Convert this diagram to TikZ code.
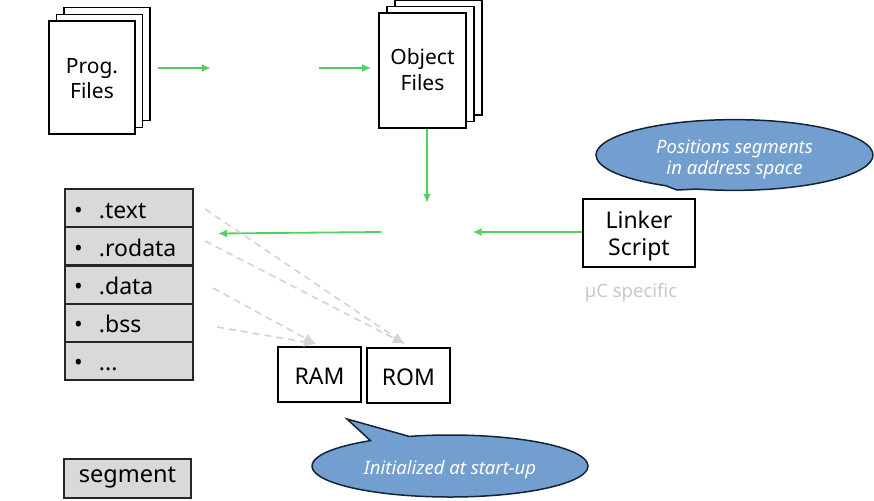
\documentclass[tikz,border=0pt]{standalone}
\usepackage{fontspec}
\setmainfont{Noto Sans}
\usetikzlibrary{arrows.meta,shapes.callouts}
\definecolor{arrowgreen}{RGB}{80,208,92}
\definecolor{dashgray}{RGB}{212,212,212}
\definecolor{segfill}{RGB}{217,217,217}
\definecolor{calloutfill}{RGB}{114,159,207}
\definecolor{calloutline}{RGB}{20,36,56}
\definecolor{notegray}{RGB}{200,200,200}
\tikzset{
  page/.style={draw=black, line width=1.6pt, fill=white, minimum width=86pt, minimum height=113pt, inner sep=0pt, align=center, font=\fontsize{21}{25}\selectfont},
  ghost/.style={inner sep=0pt},
  flow/.style={draw=arrowgreen, line width=1.8pt, -{Latex[length=9pt,width=8pt]}},
  mapto/.style={draw=dashgray, line width=1.6pt, dash pattern=on 7pt off 5pt, -{Latex[length=12pt,width=10pt]}},
  segrow/.style={fill=segfill, minimum width=128pt, minimum height=38.2pt, text width=110pt, inner xsep=9pt, inner ysep=0pt, align=left, text height=20pt, text depth=0pt, font=\fontsize{23}{26}\selectfont},
  segline/.style={draw=black!85, line width=1.8pt},
  membox/.style={draw=black, line width=1.4pt, fill=white, inner sep=0pt, font=\fontsize{23}{26}\selectfont},
  bubble/.style={ellipse callout, draw=calloutline, line width=1.5pt, fill=calloutfill, text=white, align=center, inner sep=0pt, font=\fontsize{18.5}{21}\selectfont\itshape},
}
\newcommand{\segitem}[1]{\makebox[25pt][l]{\textbullet}#1}
\begin{document}
\begin{tikzpicture}[x=1pt,y=-1pt]
\useasboundingbox (0,0) rectangle (874,500);
% Prog. Files stack
\node[page] (pf3) at (107,64) {};
\node[page] (pf2) at (99.5,71) {};
\node[page, text height=48pt, text depth=5pt] (pf) at (92,77.5) {Prog.\\Files};
% compiler (invisible)
\node[ghost, minimum width=108pt, minimum height=20pt] (comp) at (265,68) {};
% Object Files stack
\node[page, minimum width=87pt, minimum height=115pt] (of3) at (438.5,57.5) {};
\node[page, minimum width=87pt, minimum height=115pt] (of2) at (430.5,64) {};
\node[page, minimum width=87pt, minimum height=115pt, text height=45.5pt, text depth=5pt, font=\fontsize{21}{26}\selectfont] (of) at (422.5,70.5) {Object\\Files};
% linker (invisible)
\node[ghost, minimum width=91pt, minimum height=58pt] (link) at (427,232) {};
% Linker script
\node[membox, minimum width=112pt, minimum height=68pt, align=center, text height=50pt, text depth=6pt, font=\fontsize{23}{27}\selectfont] (ls) at (639,233) {Linker\\Script};
\node[text=notegray, font=\fontsize{18.5}{20}\selectfont] (spec) at (631,293) {µC specific};
% segment list
\node[segrow] (s1) at (129,208.1) {\segitem{.text}};
\node[segrow] (s2) at (129,246.3) {\segitem{.rodata}};
\node[segrow] (s3) at (129,284.5) {\segitem{.data}};
\node[segrow] (s4) at (129,322.7) {\segitem{.bss}};
\node[segrow] (s5) at (129,360.9) {\segitem{...}};
\foreach \r in {s1,s2,s3,s4,s5}{
  \draw[segline] (\r.north west) rectangle (\r.south east);
}
% RAM / ROM
\node[membox, minimum width=83pt, minimum height=55pt, text height=19pt, text depth=0pt] (ram) at (319.5,374.5) {RAM};
\node[membox, minimum width=83pt, minimum height=55pt, text height=19pt, text depth=0pt] (rom) at (408.5,375.5) {ROM};
% legend
\node[segrow, minimum width=127pt, minimum height=39pt, text width=, align=center, text height=14pt, text depth=6pt, font=\fontsize{23.5}{26}\selectfont] (seg) at (127.5,478.5) {segment};
\draw[segline] (seg.north west) rectangle (seg.south east);
% callouts
\node[bubble, minimum width=277pt, minimum height=56pt, callout absolute pointer={(677,190)}, callout pointer arc=14, text height=44pt, text depth=6pt] (c1) at (734.5,155) {Positions segments\\in address space};
\node[bubble, minimum width=276pt, minimum height=62pt, callout absolute pointer={(347,419)}, callout pointer arc=18, text height=21pt, text depth=5pt] (c2) at (450,466) {Initialized at start-up};
% green flow arrows
\draw[flow] ([xshift=7pt]pf3.east |- comp.west) -- (comp.west);
\draw[flow] (comp.east) -- ([xshift=-7pt]of.west |- comp.east);
\draw[flow] (of.south -| link.north) -- (link.north);
\draw[flow] (ls.west |- link.east) -- (link.east);
\coordinate (segin) at (218,233.5);
\draw[flow] (link.west) -- (segin);
% dashed mapping arrows
\coordinate (d1) at (205,209);
\coordinate (d2) at (205,241);
\coordinate (d3) at (213,288);
\coordinate (d4) at (217,327);
\coordinate (ramin) at (316,344);
\coordinate (romin) at (405,344);
\draw[mapto] (d1) -- (romin);
\draw[mapto] (d2) -- (romin);
\draw[mapto] (d3) -- (ramin);
\draw[mapto] (d4) -- (ramin);
\end{tikzpicture}
\end{document}
